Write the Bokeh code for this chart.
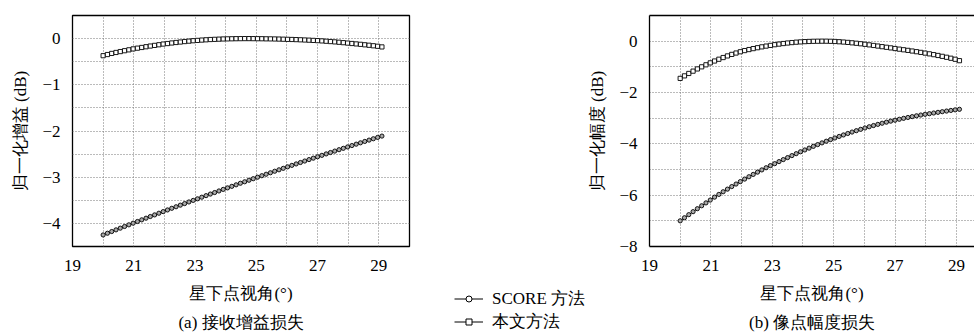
from bokeh.plotting import figure
from bokeh.layouts import row, column
from bokeh.models import (FixedTicker, Legend, LegendItem, Title, LinearAxis, Range1d, Spacer)
from bokeh.embed import file_html
from bokeh.resources import INLINE

# ---------------- data ----------------
look_angle = [20.00, 20.14, 20.28, 20.42, 20.56, 20.70, 20.84, 20.98, 21.12, 21.26,
              21.40, 21.54, 21.68, 21.82, 21.96, 22.10, 22.24, 22.38, 22.52, 22.66,
              22.80, 22.94, 23.08, 23.22, 23.36, 23.50, 23.64, 23.78, 23.92, 24.06,
              24.20, 24.34, 24.48, 24.62, 24.76, 24.90, 25.04, 25.18, 25.32, 25.46,
              25.60, 25.74, 25.88, 26.02, 26.16, 26.30, 26.44, 26.58, 26.72, 26.86,
              27.00, 27.14, 27.28, 27.42, 27.56, 27.70, 27.84, 27.98, 28.12, 28.26,
              28.40, 28.54, 28.68, 28.82, 28.96, 29.10]

gain_score = [-4.250, -4.213, -4.176, -4.140, -4.103, -4.067, -4.031, -3.995, -3.959, -3.923,
              -3.887, -3.851, -3.816, -3.780, -3.745, -3.709, -3.673, -3.640, -3.605, -3.571,
              -3.536, -3.502, -3.468, -3.433, -3.399, -3.365, -3.332, -3.298, -3.264, -3.231,
              -3.198, -3.165, -3.131, -3.099, -3.066, -3.033, -3.000, -2.968, -2.936, -2.904,
              -2.871, -2.840, -2.808, -2.776, -2.744, -2.713, -2.682, -2.650, -2.619, -2.588,
              -2.558, -2.527, -2.496, -2.466, -2.435, -2.405, -2.375, -2.345, -2.315, -2.285,
              -2.256, -2.226, -2.197, -2.168, -2.139, -2.110]

gain_ours = [-0.370, -0.345, -0.321, -0.300, -0.281, -0.262, -0.243, -0.223, -0.207, -0.192,
             -0.176, -0.161, -0.147, -0.133, -0.118, -0.107, -0.095, -0.084, -0.074, -0.064,
             -0.055, -0.046, -0.039, -0.032, -0.026, -0.020, -0.016, -0.012, -0.008, -0.006,
             -0.004, -0.002, -0.001, 0.000, 0.000, -0.001, -0.002, -0.003, -0.005, -0.006,
             -0.008, -0.010, -0.013, -0.016, -0.019, -0.022, -0.026, -0.030, -0.034, -0.039,
             -0.044, -0.050, -0.057, -0.064, -0.071, -0.079, -0.088, -0.097, -0.106, -0.115,
             -0.124, -0.134, -0.144, -0.155, -0.166, -0.180]

amp_score = [-7.000, -6.879, -6.760, -6.643, -6.527, -6.413, -6.301, -6.191, -6.077, -5.971,
             -5.867, -5.765, -5.665, -5.567, -5.472, -5.373, -5.282, -5.192, -5.103, -5.016,
             -4.931, -4.848, -4.773, -4.693, -4.614, -4.536, -4.459, -4.384, -4.309, -4.239,
             -4.168, -4.098, -4.030, -3.963, -3.898, -3.834, -3.772, -3.712, -3.654, -3.597,
             -3.541, -3.488, -3.436, -3.383, -3.334, -3.287, -3.242, -3.198, -3.156, -3.116,
             -3.080, -3.043, -3.007, -2.973, -2.940, -2.908, -2.878, -2.849, -2.826, -2.799,
             -2.773, -2.748, -2.723, -2.699, -2.676, -2.655]

amp_ours = [-1.450, -1.352, -1.258, -1.168, -1.082, -1.000, -0.921, -0.845, -0.773, -0.704,
            -0.638, -0.575, -0.516, -0.462, -0.412, -0.367, -0.327, -0.290, -0.255, -0.222,
            -0.192, -0.164, -0.138, -0.114, -0.092, -0.072, -0.055, -0.040, -0.028, -0.018,
            -0.011, -0.005, -0.002, 0.000, -0.001, -0.005, -0.012, -0.022, -0.034, -0.048,
            -0.064, -0.082, -0.101, -0.122, -0.144, -0.167, -0.190, -0.214, -0.238, -0.262,
            -0.287, -0.311, -0.335, -0.359, -0.384, -0.410, -0.437, -0.465, -0.494, -0.525,
            -0.557, -0.591, -0.627, -0.665, -0.705, -0.760]

x_ticks = [19, 21, 23, 25, 27, 29]
x_grid = [19, 20, 21, 22, 23, 24, 25, 26, 27, 28, 29, 30]
ya_ticks = [0, -1, -2, -3, -4]
ya_labels = ["0", "\u22121", "\u22122", "\u22123", "\u22124"]
ya_grid = [0.5, 0, -0.5, -1, -1.5, -2, -2.5, -3, -3.5, -4, -4.5]
yb_ticks = [0, -2, -4, -6, -8]
yb_labels = ["0", "\u22122", "\u22124", "\u22126", "\u22128"]
yb_grid = [1, 0, -1, -2, -3, -4, -5, -6, -7, -8]

xlabel = "星下点视角(°)"
ylabel_a = "归一化增益 (dB)"
ylabel_b = "归一化幅度 (dB)"
caption_a = "(a) 接收增益损失"
caption_b = "(b) 像点幅度损失"
series_names = ["SCORE 方法", "本文方法"]

FONT = "Liberation Serif"
FS = "17px"
H = 336


def style(p, yticks, ylabels, ygrid, xgrid):
    p.xaxis.ticker = FixedTicker(ticks=x_ticks)
    p.yaxis.ticker = FixedTicker(ticks=yticks)
    p.yaxis.major_label_overrides = {float(t): l for t, l in zip(yticks, ylabels)}
    p.xgrid.ticker = FixedTicker(ticks=xgrid)
    p.ygrid.ticker = FixedTicker(ticks=ygrid)
    for g in (p.xgrid, p.ygrid):
        g.grid_line_color = "#777777"
        g.grid_line_dash = "1 2"
        g.grid_line_width = 1
    for ax in p.xaxis + p.yaxis:
        ax.major_label_text_font = FONT
        ax.major_label_text_font_size = FS
        ax.major_label_text_color = "black"
        ax.axis_label_text_font = FONT
        ax.axis_label_text_font_size = FS
        ax.axis_label_text_font_style = "normal"
        ax.axis_label_text_color = "black"
        ax.major_tick_out = 0
        ax.major_tick_in = 0
        ax.minor_tick_out = 0
        ax.minor_tick_in = 0
        ax.axis_line_color = None
    p.xaxis.major_label_standoff = 13
    p.xaxis.axis_label_standoff = 10
    p.yaxis.major_label_standoff = 12
    p.yaxis.axis_label_standoff = 9
    p.xaxis.axis_label = xlabel
    p.background_fill_color = "white"
    p.border_fill_color = "white"


def draw(p, x, y_score, y_ours):
    l1 = p.line(x, y_score, line_color="black", line_width=1)
    s1 = p.scatter(x, y_score, marker="circle", size=4.2, line_color="black",
                   fill_color="#aaaaaa", line_width=0.9)
    l2 = p.line(x, y_ours, line_color="black", line_width=1)
    s2 = p.scatter(x, y_ours, marker="square", size=4.2, line_color="black",
                   fill_color="white", line_width=0.9)
    return (l1, s1), (l2, s2)


def caption(p, text):
    p.add_layout(Title(text=text, align="center", text_font=FONT, text_font_size=FS,
                       text_font_style="normal", text_color="black", standoff=11), "below")


# ---------------- left: gain ----------------
pa = figure(frame_width=337, frame_height=231, output_backend="svg", toolbar_location=None,
            x_range=Range1d(19, 30), y_range=Range1d(-4.5, 0.5),
            min_border_left=72, min_border_right=21, min_border_top=15, min_border_bottom=10)
style(pa, ya_ticks, ya_labels, ya_grid, x_grid)
pa.yaxis.axis_label = ylabel_a
pa.outline_line_color = "black"
pa.outline_line_width = 1.3
pa.outline_line_alpha = 1
draw(pa, look_angle, gain_score, gain_ours)
caption(pa, caption_a)

# ---------------- legend panel ----------------
LW = 155
LH = 60
pl = figure(width=LW, height=LH, output_backend="svg", toolbar_location=None,
            x_range=Range1d(0, 1), y_range=Range1d(0, 1),
            min_border_left=0, min_border_right=0, min_border_top=0, min_border_bottom=0)
pl.axis.visible = False
pl.grid.visible = False
pl.outline_line_color = None
pl.background_fill_alpha = 0
pl.border_fill_alpha = 0
lg1 = pl.line([-5, -4], [-5, -4], line_color="black", line_width=1)
mg1 = pl.scatter([-5], [-5], marker="circle", size=8, line_color="black",
                 fill_color="white", line_width=1)
lg2 = pl.line([-5, -4], [-5, -4], line_color="black", line_width=1)
mg2 = pl.scatter([-5], [-5], marker="square", size=8, line_color="black",
                 fill_color="white", line_width=1)
legend = Legend(items=[LegendItem(label=series_names[0], renderers=[lg1, mg1]),
                       LegendItem(label=series_names[1], renderers=[lg2, mg2])],
                location=(24, 3), orientation="vertical",
                label_text_font=FONT, label_text_font_size=FS, label_text_color="black",
                label_text_line_height=0.85,
                label_height=15, label_standoff=9, glyph_width=29, glyph_height=15,
                spacing=0, padding=0, margin=0,
                border_line_color=None, background_fill_alpha=0)
pl.add_layout(legend, "center")
mid = column(Spacer(width=LW, height=H - LH), pl)

# ---------------- right: amplitude ----------------
pb = figure(frame_width=325, frame_height=231, output_backend="svg", toolbar_location=None,
            x_range=Range1d(19, 29.59), y_range=Range1d(-8, 1),
            min_border_left=63, min_border_right=1, min_border_top=15, min_border_bottom=10)
style(pb, yb_ticks, yb_labels, yb_grid, x_grid)
pb.yaxis.axis_label = ylabel_b
pb.yaxis.axis_label_standoff = 9
pb.outline_line_color = None
for ax in pb.xaxis + pb.yaxis:
    ax.axis_line_color = "black"
    ax.axis_line_width = 1.3
top_axis = LinearAxis(axis_line_color="black", axis_line_width=1.3, major_tick_out=0,
                      major_tick_in=0, minor_tick_out=0, minor_tick_in=0,
                      major_label_text_font_size="0px", ticker=FixedTicker(ticks=[]))
pb.add_layout(top_axis, "above")
draw(pb, look_angle, amp_score, amp_ours)
caption(pb, caption_b)

layout = row(pa, mid, pb)
with open("out.html", "w") as f:
    f.write(file_html(layout, INLINE))
